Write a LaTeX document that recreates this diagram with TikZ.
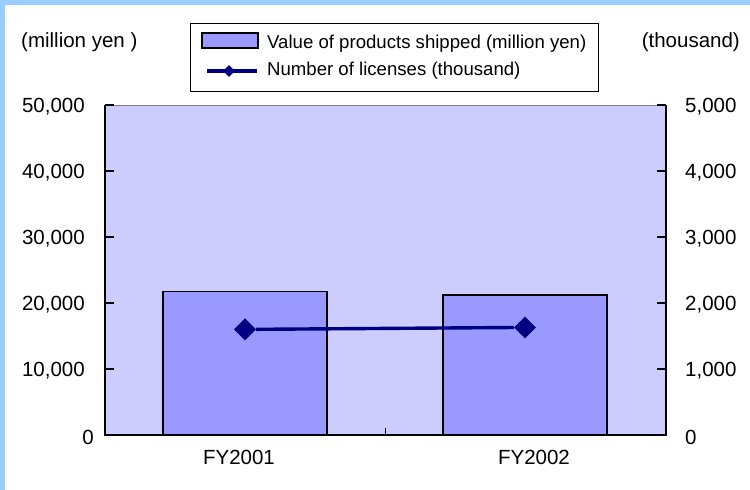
\documentclass[tikz,border=0pt]{standalone}
\usepackage{fontspec}
\setmainfont{Liberation Sans}
\usetikzlibrary{positioning, shapes.geometric}
\definecolor{framebar}{HTML}{99CCFF}
\definecolor{plotbg}{HTML}{CCCCFF}
\definecolor{barfill}{HTML}{9999FF}
\definecolor{linenavy}{HTML}{000080}
\tikzset{
  axlbl/.style={font=\fontsize{20.5}{24}\selectfont, inner sep=0pt},
  leglbl/.style={font=\fontsize{18.6}{22}\selectfont, inner sep=0pt, anchor=west},
  barbox/.style={draw=black, fill=barfill, line width=1.4pt},
  dmark/.style={diamond, fill=linenavy, inner sep=0pt, minimum width=#1, minimum height=#1},
  dmark/.default=22pt,
  dline/.style={draw=linenavy, line width=3.4pt},
  axline/.style={draw=black, line width=1.3pt},
}

\begin{document}
\begin{tikzpicture}[x=1pt, y=-1pt]
  \useasboundingbox (0,0) rectangle (750,490);

  % Frame strips
  \fill[framebar] (0,0) rectangle (750,5);
  \fill[framebar] (0,0) rectangle (5,490);

  % Plot area
  \filldraw[fill=plotbg, draw=gray, line width=1pt] (105,105) rectangle (666,435);

  % Axis units
  \node[axlbl, anchor=west] (unitl) at (21,42) {(million yen )};
  \node[axlbl, anchor=east] (unitr) at (740,42) {(thousand)};

  % Data (1 unit = 1,000 million yen)
  \begin{scope}[shift={(105,435)}, x=1pt, y=6.6pt]
    \draw[barbox] (58,0) rectangle (222,21.7);
    \draw[barbox] (338,0) rectangle (502,21.2);
    \node[dmark] (p1) at (140,16.0) {};
    \node[dmark] (p2) at (420,16.3) {};
    \draw[dline] (p1) -- (p2);
  \end{scope}

  % Axes and ticks
  \draw[axline] (105,105) -- (105,435) -- (666,435) -- (666,105);
  \foreach \k in {0,...,5} {
    \draw[axline] (105,435-66*\k) -- (114,435-66*\k);
    \draw[axline] (657,435-66*\k) -- (666,435-66*\k);
  }
  \draw[axline, line width=1pt] (385,435) -- (385,428);

  % Left tick labels
  \foreach \k/\v in {1/10{,}000, 2/20{,}000, 3/30{,}000, 4/40{,}000, 5/50{,}000}
    \node[axlbl, anchor=east] (yl\k) at (85,437-66*\k) {\v};
  \node[axlbl, anchor=east] (yl0) at (94,437) {0};

  % Right tick labels
  \foreach \k/\v in {0/0, 1/1{,}000, 2/2{,}000, 3/3{,}000, 4/4{,}000, 5/5{,}000}
    \node[axlbl, anchor=west] (yr\k) at (685,437-66*\k) {\v};

  % Categories
  \node[axlbl] (cat1) at (239,457) {FY2001};
  \node[axlbl] (cat2) at (534,457) {FY2002};

  % Legend
  \filldraw[fill=white, draw=black, line width=1pt] (190,23) rectangle (598,91);
  \draw[barbox] (202,33) rectangle (258,48);
  \node[leglbl] (legbar) at (267,44) {Value of products shipped (million yen)};
  \coordinate (lgA) at (207,71);
  \coordinate (lgB) at (257,71);
  \draw[dline] (lgA) -- (lgB);
  \node[dmark=12pt] (lgD) at (229,71) {};
  \node[leglbl] (legline) at (267,71) {Number of licenses (thousand)};
\end{tikzpicture}
\end{document}
